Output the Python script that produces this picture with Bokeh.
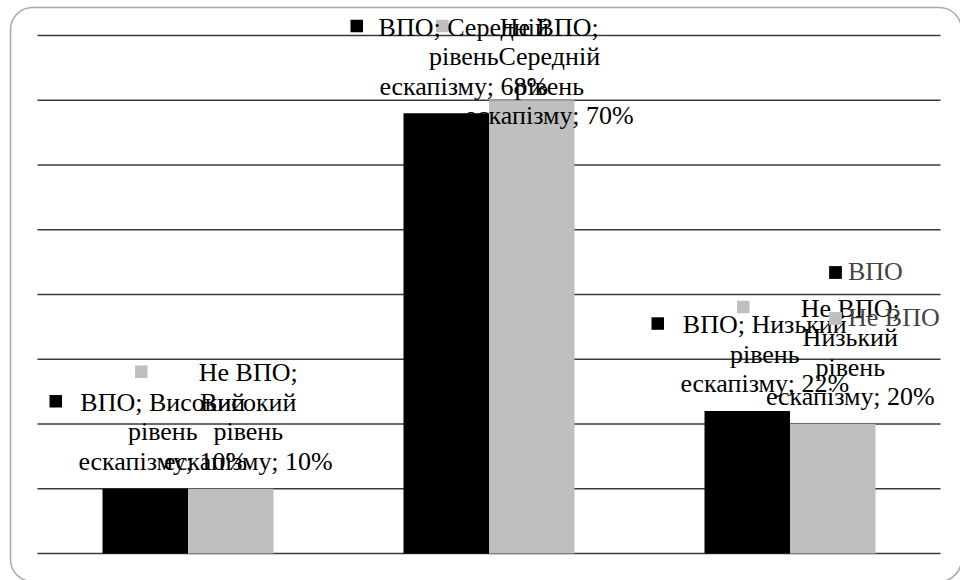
import textwrap
from bokeh.plotting import figure
from bokeh.models import Range1d, Legend, LegendItem, LabelSet, ColumnDataSource
from bokeh.embed import file_html
from bokeh.resources import INLINE

# ---- data ----
categories = ["Високий рівень ескапізму", "Середній рівень ескапізму", "Низький рівень ескапізму"]
series_names = ["ВПО", "Не ВПО"]
vpo_values = [10, 68, 22]
ne_vpo_values = [10, 70, 20]
grid_ticks = [0, 10, 20, 30, 40, 50, 60, 70, 80]

# ---- layout / style ----
W, H = 960, 580
PX_CAT = 301.0          # pixels per category
CAT0_PX = 187.5         # pixel x of first category centre
Y0_PX = 553.0           # pixel y of value 0
PX_UNIT = 6.475         # pixels per 1 %
BAR_W = 85.5 / PX_CAT
FONT = "Liberation Serif"
FONT_SIZE = "26px"
LINE_PX = 29.5
GAP_PX = 19.0
TEXT_DX = 17.5 / PX_CAT
KEY_DX = -89.5 / PX_CAT
KEY_DY = 9.5 / PX_UNIT
colors = ["#000000", "#bfbfbf"]

x_range = Range1d(-CAT0_PX / PX_CAT, (W - CAT0_PX) / PX_CAT)
y_range = Range1d(-(H - Y0_PX) / PX_UNIT, Y0_PX / PX_UNIT)

p = figure(width=W, height=H, x_range=x_range, y_range=y_range,
           output_backend="svg", toolbar_location=None,
           x_axis_location=None, y_axis_location=None, min_border=0)
p.xgrid.visible = False
p.ygrid.visible = False
p.outline_line_color = None
p.background_fill_color = "white"
p.border_fill_color = "white"

# rounded chart border
p.quad(left=[(10 - CAT0_PX) / PX_CAT], right=[(961 - CAT0_PX) / PX_CAT],
       top=[(Y0_PX - 7) / PX_UNIT], bottom=[(Y0_PX - 581) / PX_UNIT],
       fill_color=None, line_color="#a8a8a8", line_width=1.5, border_radius=22)

# gridlines
n = len(categories)
p.segment(x0=[-0.5] * len(grid_ticks), x1=[n - 0.5] * len(grid_ticks),
          y0=grid_ticks, y1=grid_ticks, line_color="#3a3a3a", line_width=1.4)

all_values = [vpo_values, ne_vpo_values]
renderers = []
for s, (name, vals) in enumerate(zip(series_names, all_values)):
    xs = [i + (s - 0.5) * BAR_W for i in range(n)]
    r = p.vbar(x=xs, width=BAR_W, top=vals, bottom=0, fill_color=colors[s], line_color=None)
    renderers.append(r)

# data labels (series; category; value), wrapped like the original
lx, ly, lt = [], [], []
kx, ky, kc = [], [], []
for s, (name, vals) in enumerate(zip(series_names, all_values)):
    for i, (cat, v) in enumerate(zip(categories, vals)):
        raw = f"{name}; {cat};\u00a0{v}%"
        lines = [ln.replace("\u00a0", " ") for ln in textwrap.wrap(raw, width=13, break_long_words=False)]
        xc = i + (s - 0.5) * BAR_W
        first = v + (GAP_PX + (len(lines) - 1) * LINE_PX) / PX_UNIT
        first = min(first, grid_ticks[-1])
        for k, ln in enumerate(lines):
            lx.append(xc + TEXT_DX)
            ly.append(first - k * LINE_PX / PX_UNIT)
            lt.append(ln)
        kx.append(xc + KEY_DX)
        ky.append(first + KEY_DY)
        kc.append(colors[s])

src = ColumnDataSource(dict(x=lx, y=ly, t=lt))
p.add_layout(LabelSet(x="x", y="y", text="t", source=src,
                      text_font=FONT, text_font_size=FONT_SIZE,
                      text_align="center", text_baseline="alphabetic",
                      text_color="#000000"))

p.scatter(x=kx, y=ky, marker="square", size=12.5, fill_color=kc, line_color=None)

legend = Legend(items=[LegendItem(label=nm, renderers=[r]) for nm, r in zip(series_names, renderers)],
                location=(827, 247), orientation="vertical",
                glyph_width=16, glyph_height=16, label_standoff=5,
                label_text_font=FONT, label_text_font_size=FONT_SIZE,
                label_height=30, spacing=16, padding=0, margin=0,
                background_fill_alpha=0, border_line_alpha=0)
p.add_layout(legend, "center")

open("out.html", "w").write(file_html(p, INLINE))
